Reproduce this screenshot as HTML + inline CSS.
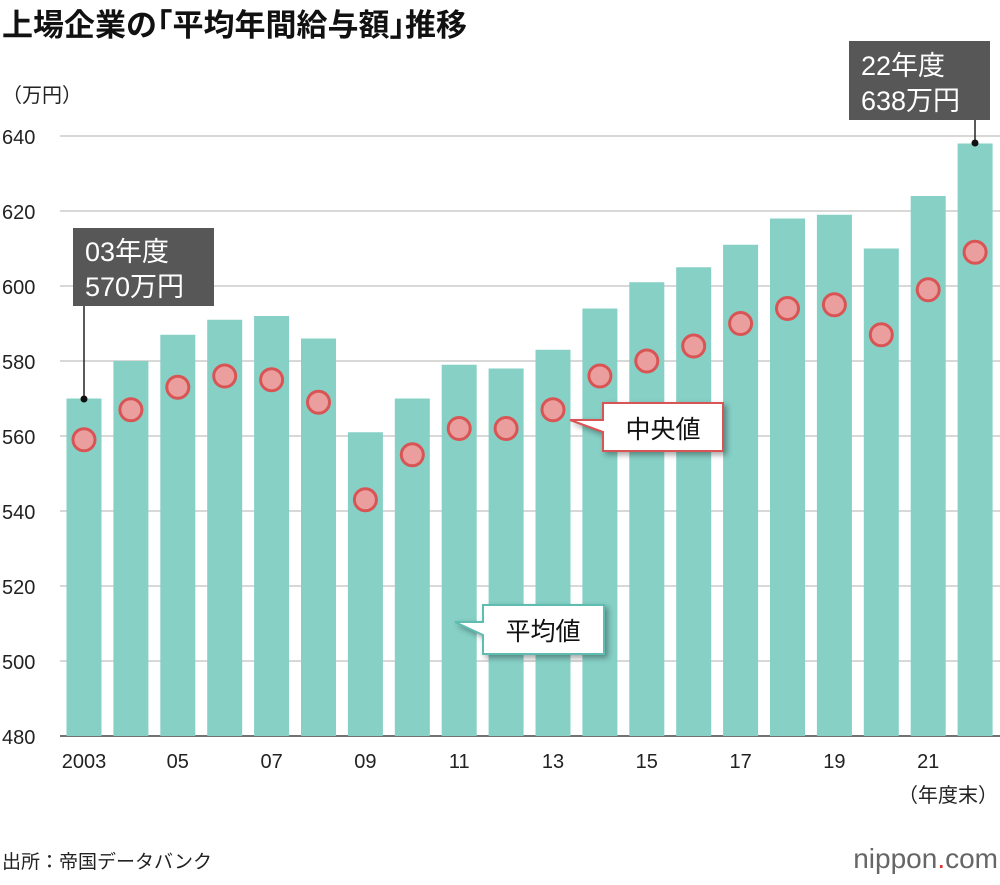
<!DOCTYPE html>
<html><head><meta charset="utf-8"><style>
body{margin:0;background:#fff;font-family:"Liberation Sans","Noto Sans CJK JP",sans-serif}
svg text{font-family:"Liberation Sans","Noto Sans CJK JP",sans-serif}
</style></head><body>
<svg id="c" width="1000" height="880">
<text x="2" y="36" font-size="31" font-weight="bold" fill="#111">上場企業の｢平均年間給与額｣推移</text>
<text x="2" y="102" font-size="20" fill="#222">（万円）</text>
<g id="grid"></g><g id="bars"></g><g id="dots"></g><g id="xt"></g>
<text x="998" y="802" font-size="20" text-anchor="end" fill="#222">（年度末）</text>
<text x="2" y="868" font-size="19" fill="#222">出所：帝国データバンク</text>
<text x="998" y="868" font-size="28" text-anchor="end" fill="#666">nippon<tspan fill="#d33">.</tspan>com</text>
<g>
<path d="M603,403 H723 V451 H603 V432 L570,420 L603,420 Z" fill="#fff" stroke="#d95555" stroke-width="2" style="filter:drop-shadow(3px 3px 3px rgba(0,0,0,.35))"/>
<text x="663" y="438" font-size="25" text-anchor="middle" fill="#111">中央値</text></g>
<g>
<path d="M483,605 H604 V654 H483 V635 L455,622 L483,622 Z" fill="#fff" stroke="#5fbcb0" stroke-width="2" style="filter:drop-shadow(3px 3px 3px rgba(0,0,0,.35))"/>
<text x="543" y="640" font-size="25" text-anchor="middle" fill="#111">平均値</text></g>
<g>
<line x1="84" y1="306" x2="84" y2="399" stroke="#222" stroke-width="1.5"/><circle cx="84" cy="399" r="3.5" fill="#111"/>
<rect x="73" y="228" width="141" height="78" fill="#575757"/>
<text x="85" y="261" font-size="27" fill="#fff">03年度</text><text x="85" y="296" font-size="27" fill="#fff">570万円</text></g>
<g>
<line x1="975" y1="120" x2="975" y2="143" stroke="#222" stroke-width="1.5"/><circle cx="975" cy="143" r="3.5" fill="#111"/>
<rect x="849" y="41" width="141" height="79" fill="#575757"/>
<text x="861" y="75" font-size="27" fill="#fff">22年度</text><text x="861" y="110" font-size="27" fill="#fff">638万円</text></g>
</svg>
<script>
const years=["2003","04","05","06","07","08","09","10","11","12","13","14","15","16","17","18","19","20","21","22"];
const meanVals=[570,580,587,591,592,586,561,570,579,578,583,594,601,605,611,618,619,610,624,638];
const medianVals=[559,567,573,576,575,569,543,555,562,562,567,576,580,584,590,594,595,587,599,609];
const yTicks=[480,500,520,540,560,580,600,620,640];
const xLabels=["2003","05","07","09","11","13","15","17","19","21"];
const NS="http://www.w3.org/2000/svg";
const y=v=>736-(v-480)*3.75;
const x=i=>84+i*46.9;
function mk(t,a,p){const e=document.createElementNS(NS,t);for(const k in a)e.setAttribute(k,a[k]);document.getElementById(p).appendChild(e);return e;}
yTicks.forEach(v=>{
 const l=mk('line',{x1:60,x2:1000,y1:y(v),y2:y(v),stroke:v===480?'#444':'#ccc','stroke-width':v===480?1.5:1.5},'grid');
 
 
 const t=mk('text',{x:2,y:y(v)+8,'font-size':20,fill:'#222'},'grid');t.textContent=v;
 
 
});
meanVals.forEach((v,i)=>{
 const r=mk('rect',{x:x(i)-17.5,y:y(v),width:35,height:736-y(v),fill:'#86d0c6'},'bars');
 
 
});
medianVals.forEach((v,i)=>{
 const c=mk('circle',{cx:x(i),cy:y(v),r:11,fill:'#eb9e9e',stroke:'#d95555','stroke-width':3},'dots');
 
 
});
xLabels.forEach(lb=>{
 const i=years.indexOf(lb);
 const t=mk('text',{x:x(i),y:768,'font-size':20,'text-anchor':'middle',fill:'#222'},'xt');t.textContent=lb;
 
 
});
</script>
</body></html>
